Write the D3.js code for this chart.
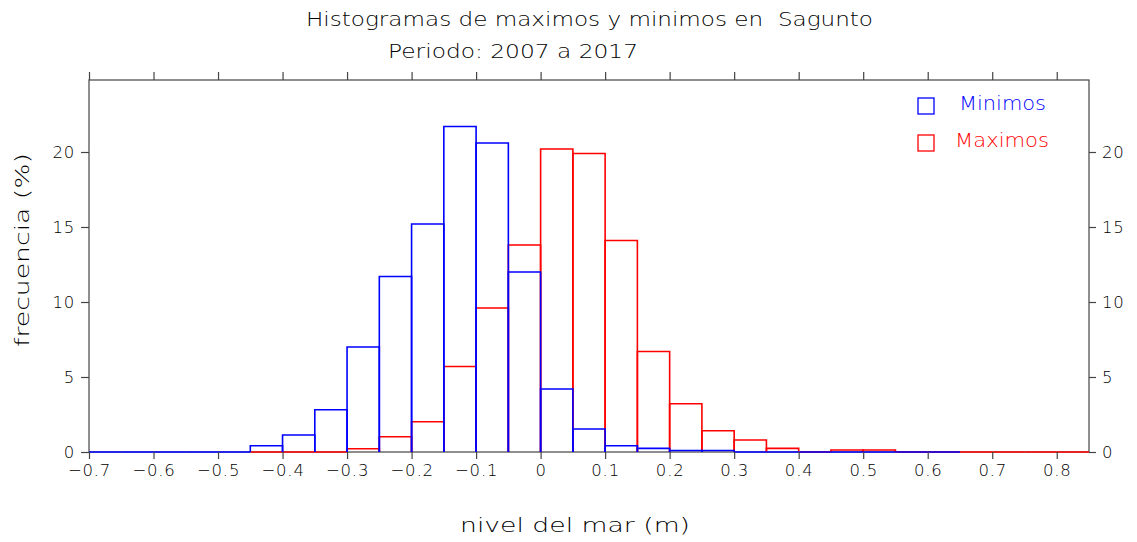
<!DOCTYPE html>
<html lang="es">
<head>
<meta charset="UTF-8">
<title>Histogramas Sagunto</title>
<script src="https://cdn.jsdelivr.net/npm/d3@7"></script>
<style>
  body { margin: 0; background: #fff; }
  svg { display: block; }
  text { font-family: "DejaVu Sans", sans-serif; font-weight: 200; fill: #000; }
</style>
</head>
<body>
<svg width="1137" height="542"></svg>
<script>
// bin starts (m), width 0.05
var binWidth = 0.05;
var minStarts = [-0.7, -0.65, -0.6, -0.55, -0.5, -0.45, -0.4, -0.35, -0.3, -0.25, -0.2, -0.15, -0.1, -0.05, 0, 0.05, 0.1, 0.15, 0.2, 0.25, 0.3, 0.35, 0.4, 0.45, 0.5, 0.55, 0.6];
var minValues = [0, 0, 0, 0, 0, 0.42, 1.13, 2.82, 7.0, 11.7, 15.2, 21.7, 20.6, 12.0, 4.2, 1.53, 0.42, 0.24, 0.1, 0.1, 0, 0, 0, 0, 0, 0, 0];
var maxStarts = [-0.45, -0.4, -0.35, -0.3, -0.25, -0.2, -0.15, -0.1, -0.05, 0, 0.05, 0.1, 0.15, 0.2, 0.25, 0.3, 0.35, 0.4, 0.45, 0.5, 0.55, 0.6, 0.65, 0.7, 0.75, 0.8];
var maxValues = [0, 0, 0, 0.22, 1.02, 2.02, 5.7, 9.6, 13.8, 20.2, 19.9, 14.1, 6.7, 3.22, 1.42, 0.8, 0.24, 0, 0.13, 0.13, 0, 0, 0, 0, 0, 0];
var xTicks = [-0.7, -0.6, -0.5, -0.4, -0.3, -0.2, -0.1, 0, 0.1, 0.2, 0.3, 0.4, 0.5, 0.6, 0.7, 0.8];
var yTicks = [0, 5, 10, 15, 20];
var seriesNames = ["Minimos", "Maximos"];
var seriesColors = ["#0000ff", "#ff0000"];

var svg = d3.select("svg");
var margin = {left: 89, right: 48, top: 80, bottom: 90};
var W = 1137, H = 542;

var x = d3.scaleLinear().domain([-0.7, 0.85]).range([margin.left, W - margin.right]);
var y = d3.scaleLinear().domain([0, 24.8]).range([H - margin.bottom, margin.top]);

var axisColor = "#444";

// step outline for each series
function drawSeries(starts, values, color) {
  var g = svg.append("g");
  starts.forEach(function(s, i) {
    var x0 = x(s), x1 = x(s + binWidth), y0 = y(0), yt = y(values[i]);
    var p = values[i] > 0
      ? "M" + x0 + "," + y0 + "V" + yt + "H" + x1 + "V" + y0
      : "M" + x0 + "," + y0 + "H" + x1;
    g.append("path").attr("d", p).attr("fill", "none")
      .attr("stroke", color).attr("stroke-width", 1.6);
  });
}

// frame
svg.append("rect")
  .attr("x", x(-0.7)).attr("y", y(24.8))
  .attr("width", x(0.85) - x(-0.7)).attr("height", y(0) - y(24.8))
  .attr("fill", "none").attr("stroke", axisColor).attr("stroke-width", 1.2);

drawSeries(maxStarts, maxValues, seriesColors[1]);
drawSeries(minStarts, minValues, seriesColors[0]);

var fmt = function(d) { return d === 0 ? "0" : d3.format(".1f")(d).replace("-", "\u2212"); };

var axB = svg.append("g").attr("transform", "translate(0," + y(0) + ")")
  .call(d3.axisBottom(x).tickValues(xTicks).tickSize(7).tickPadding(5).tickFormat(fmt));
var axT = svg.append("g").attr("transform", "translate(0," + y(24.8) + ")")
  .call(d3.axisTop(x).tickValues(xTicks).tickSize(8).tickFormat(""));
var axL = svg.append("g").attr("transform", "translate(" + x(-0.7) + ",0)")
  .call(d3.axisLeft(y).tickValues(yTicks).tickSize(8).tickPadding(6));
var axR = svg.append("g").attr("transform", "translate(" + x(0.85) + ",0)")
  .call(d3.axisRight(y).tickValues(yTicks).tickSize(7).tickPadding(6));

[axB, axT, axL, axR].forEach(function(a) {
  a.select(".domain").remove();
  a.selectAll(".tick line").attr("stroke", axisColor).attr("stroke-width", 1.2);
  a.selectAll(".tick text").attr("font-size", 16.5).attr("fill", "#000")
    .style("letter-spacing", "0.8px")
    .style("font-family", "'DejaVu Sans', sans-serif").style("font-weight", 200);
});

// titles
function label(txt, xx, yy, len) {
  return svg.append("text").attr("x", xx).attr("y", yy)
    .attr("font-size", 20).attr("xml:space", "preserve")
    .attr("textLength", len).attr("lengthAdjust", "spacingAndGlyphs")
    .text(txt);
}
label("Histogramas de maximos y minimos en  Sagunto", 306, 26, 567);
label("Periodo: 2007 a 2017", 388, 58, 250);
label("nivel del mar (m)", 460, 532, 230);
svg.append("text").attr("transform", "translate(29,250) rotate(-90)")
  .attr("x", -97).attr("font-size", 20)
  .attr("textLength", 194).attr("lengthAdjust", "spacingAndGlyphs")
  .text("frecuencia (%)");

// legend
var legend = svg.append("g");
seriesNames.forEach(function(n, i) {
  var yy = 98 + i * 37;
  legend.append("rect").attr("x", 918).attr("y", yy).attr("width", 16).attr("height", 16)
    .attr("fill", "none").attr("stroke", seriesColors[i]).attr("stroke-width", 1.3);
  legend.append("text").attr("x", i === 0 ? 959 : 955).attr("y", yy + 12)
    .attr("font-size", 20).attr("textLength", i === 0 ? 87 : 94).attr("lengthAdjust", "spacingAndGlyphs")
    .style("fill", seriesColors[i]).text(n);
});
</script>
</body>
</html>
